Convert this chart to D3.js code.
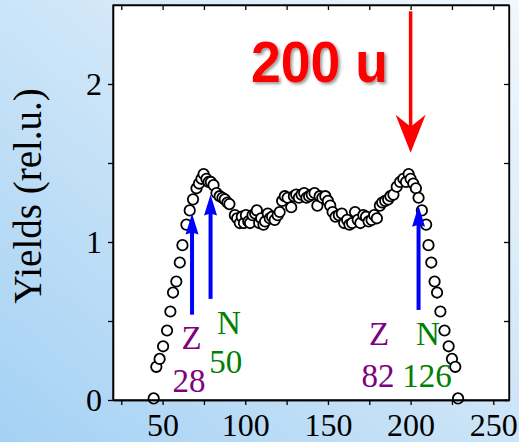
<!DOCTYPE html>
<html>
<head>
<meta charset="utf-8">
<script src="https://cdn.jsdelivr.net/npm/d3@7"></script>
<style>
    html, body { margin: 0; padding: 0; }
    svg { display: block; }
</style>
</head>
<body>
<svg id="chart"></svg>
<script>
window.Vis = window.Vis || {};

// mass number (u) and relative yield
const massNumbers = [44.6, 46.2, 48.2, 50.3, 52.7, 54.7, 56.3, 58.3, 60.4, 62.0, 64.4, 66.4, 68.4, 70.5, 72.0, 73.5, 74.8, 76.5, 77.8, 79.2,
    80.8, 82.6, 84.5, 86.2, 87.6, 89.2, 90.4, 93.7, 95.1, 96.7, 97.9, 99.2, 100.4, 101.8, 102.9, 104.4, 106.0, 107.0, 108.4, 109.6,
    111.0, 112.0, 113.6, 114.8, 116.2, 117.8, 119.6, 120.8, 122.3, 123.9, 125.6, 127.8, 129.4, 130.8, 132.4, 134.0, 135.6, 137.0, 138.6, 140.2,
    141.9, 143.6, 145.0, 146.6, 148.4, 150.0, 151.4, 152.8, 154.6, 156.6, 158.4, 159.8, 161.6, 163.0, 164.6, 166.4, 168.0, 169.6, 171.4, 173.0,
    174.6, 176.4, 178.0, 179.6, 181.4, 182.8, 184.6, 186.4, 187.8, 189.6, 191.6, 193.6, 195.6, 197.2, 198.8, 200.0, 201.6, 203.2, 204.8, 206.8,
    209.4, 210.8, 212.5, 214.5, 216.0, 218.0, 220.5, 223.0, 225.0, 227.0, 228.7];
const yields = [0.01, 0.21, 0.26, 0.34, 0.44, 0.56, 0.68, 0.75, 0.87, 0.98, 1.11, 1.20, 1.27, 1.34, 1.37, 1.40, 1.43, 1.40, 1.38, 1.38,
    1.36, 1.31, 1.29, 1.28, 1.27, 1.25, 1.24, 1.17, 1.15, 1.12, 1.16, 1.12, 1.17, 1.13, 1.12, 1.17, 1.18, 1.20, 1.12, 1.15,
    1.11, 1.13, 1.18, 1.15, 1.16, 1.14, 1.17, 1.19, 1.26, 1.29, 1.28, 1.22, 1.29, 1.30, 1.28, 1.30, 1.31, 1.28, 1.29, 1.30,
    1.31, 1.23, 1.29, 1.28, 1.29, 1.26, 1.23, 1.19, 1.16, 1.17, 1.18, 1.12, 1.14, 1.11, 1.12, 1.19, 1.14, 1.12, 1.17, 1.16,
    1.13, 1.14, 1.17, 1.15, 1.23, 1.25, 1.26, 1.27, 1.29, 1.30, 1.35, 1.38, 1.40, 1.38, 1.43, 1.40, 1.37, 1.34, 1.28, 1.20,
    1.11, 0.98, 0.87, 0.75, 0.68, 0.56, 0.44, 0.34, 0.26, 0.21, 0.01];

const xTickValues = [50, 100, 150, 200, 250];
const xMinorValues = [25, 75, 125, 175, 225];
const yTickValues = [0, 1, 2];
const yMinorValues = [0.5, 1.5];

// magic-number arrows: mass, start yield, tip yield
const arrowMass = [67.8, 79.0, 204.8];
const arrowFrom = [0.54, 0.64, 0.57];
const arrowTo = [1.18, 1.30, 1.23];

// magic-number labels
const labelText = ['Z', '28', 'N', '50', 'Z', '82', 'N', '126'];
const labelMass = [67.6, 66.0, 90.1, 88.2, 181.0, 180.2, 210.5, 209.9];
const labelYield = [0.32, 0.05, 0.42, 0.17, 0.35, 0.085, 0.35, 0.085];
const labelKind = ['Z', 'Z', 'N', 'N', 'Z', 'Z', 'N', 'N'];

const headline = '200 u';
const headlineMass = 200;
const headlineFrom = 2.46;
const headlineTo = 1.565;

Vis.init = function() {
    Vis.width = 519;
    Vis.height = 442;
    Vis.margin = {l: 113, r: 10, t: 5, b: 42};

    Vis.setup.initGraph();
    Vis.setup.initScales();
    Vis.draw.points();
    Vis.draw.arrows();
    Vis.draw.labels();
    Vis.draw.axes();
    Vis.draw.headline();
};

Vis.setup = {
    initGraph: function() {
        Vis.svg = d3.select('#chart')
                    .attr('width', Vis.width)
                    .attr('height', Vis.height);

        let defs = Vis.svg.append('defs');

        let grad = defs.append('linearGradient')
                        .attr('id', 'bg')
                        .attr('x1', '0').attr('y1', '1')
                        .attr('x2', '1').attr('y2', '0');
        grad.append('stop').attr('offset', '0').attr('stop-color', '#a4d1f4');
        grad.append('stop').attr('offset', '0.55').attr('stop-color', '#cfe6f8');
        grad.append('stop').attr('offset', '1').attr('stop-color', '#f2f8fd');

        defs.append('filter')
                .attr('id', 'shadow')
                .attr('x', '-10%').attr('y', '-20%')
                .attr('width', '130%').attr('height', '150%')
            .append('feDropShadow')
                .attr('dx', 2).attr('dy', 2)
                .attr('stdDeviation', 1.5)
                .attr('flood-color', '#555')
                .attr('flood-opacity', 0.6);

        Vis.svg.append('rect')
                .attr('width', Vis.width)
                .attr('height', Vis.height)
                .attr('fill', 'url(#bg)');

        Vis.svg.append('rect')
                .attr('x', Vis.margin.l)
                .attr('y', Vis.margin.t)
                .attr('width', Vis.width - Vis.margin.l - Vis.margin.r)
                .attr('height', Vis.height - Vis.margin.t - Vis.margin.b)
                .attr('fill', 'white');
    },

    initScales: function() {
        Vis.x = d3.scaleLinear()
                    .domain([20, 259.5])
                    .range([Vis.margin.l, Vis.width - Vis.margin.r]);
        Vis.y = d3.scaleLinear()
                    .domain([0, 2.5])
                    .range([Vis.height - Vis.margin.b, Vis.margin.t]);
    }
};

Vis.draw = {
    points: function() {
        Vis.svg.append('g')
            .selectAll('circle')
            .data(d3.zip(massNumbers, yields))
            .enter()
                .append('circle')
                    .attr('cx', function(d) { return Vis.x(d[0]); })
                    .attr('cy', function(d) { return Vis.y(d[1]); })
                    .attr('r', 5.2)
                    .attr('fill', 'white')
                    .attr('stroke', 'black')
                    .attr('stroke-width', 1.8);
    },

    arrows: function() {
        let g = Vis.svg.append('g').attr('fill', '#0000ff').attr('stroke', '#0000ff');
        let data = d3.zip(arrowMass, arrowFrom, arrowTo);

        g.selectAll('line')
            .data(data)
            .enter()
                .append('line')
                    .attr('x1', function(d) { return Vis.x(d[0]); })
                    .attr('x2', function(d) { return Vis.x(d[0]); })
                    .attr('y1', function(d) { return Vis.y(d[1]); })
                    .attr('y2', function(d) { return Vis.y(d[2]) + 12; })
                    .attr('stroke-width', 4);

        g.selectAll('path')
            .data(data)
            .enter()
                .append('path')
                    .attr('stroke', 'none')
                    .attr('d', function(d) {
                        let cx = Vis.x(d[0]), ty = Vis.y(d[2]);
                        return 'M' + cx + ',' + ty + 'L' + (cx + 6.5) + ',' + (ty + 21) +
                               'L' + cx + ',' + (ty + 19) + 'L' + (cx - 6.5) + ',' + (ty + 21) + 'Z';
                    });
    },

    labels: function() {
        Vis.svg.append('g')
            .selectAll('text')
            .data(d3.zip(labelText, labelMass, labelYield, labelKind))
            .enter()
                .append('text')
                    .attr('x', function(d) { return Vis.x(d[1]); })
                    .attr('y', function(d) { return Vis.y(d[2]); })
                    .attr('text-anchor', 'middle')
                    .attr('font-family', '"Liberation Serif", "Times New Roman", serif')
                    .attr('font-size', 33)
                    .attr('fill', function(d) { return d[3] === 'Z' ? '#800080' : '#008000'; })
                    .text(function(d) { return d[0]; });
    },

    axes: function() {
        let font = '"Liberation Serif", "Times New Roman", serif';
        let bottom = Vis.height - Vis.margin.b;
        let right = Vis.width - Vis.margin.r;

        // labelled axes, ticks outward
        let gx = Vis.svg.append('g')
            .attr('transform', 'translate(0,' + bottom + ')')
            .call(d3.axisBottom(Vis.x).tickValues(xTickValues).tickSize(5).tickSizeOuter(0).tickPadding(8));
        let gy = Vis.svg.append('g')
            .attr('transform', 'translate(' + Vis.margin.l + ',0)')
            .call(d3.axisLeft(Vis.y).tickValues(yTickValues).tickFormat(d3.format('d')).tickSize(5).tickSizeOuter(0).tickPadding(6));

        Vis.svg.append('g')
            .attr('transform', 'translate(0,' + bottom + ')')
            .call(d3.axisBottom(Vis.x).tickValues(xMinorValues).tickSize(5).tickSizeOuter(0).tickFormat(''));
        Vis.svg.append('g')
            .attr('transform', 'translate(' + Vis.margin.l + ',0)')
            .call(d3.axisLeft(Vis.y).tickValues(yMinorValues).tickSize(5).tickSizeOuter(0).tickFormat(''));

        // mirror axes, ticks inward
        Vis.svg.append('g')
            .attr('transform', 'translate(0,' + Vis.margin.t + ')')
            .call(d3.axisBottom(Vis.x).tickValues(xMinorValues.concat(xTickValues)).tickSize(5).tickSizeOuter(0).tickFormat(''));
        Vis.svg.append('g')
            .attr('transform', 'translate(' + right + ',0)')
            .call(d3.axisLeft(Vis.y).tickValues(yMinorValues.concat(yTickValues)).tickSize(5).tickSizeOuter(0).tickFormat(''));

        Vis.svg.selectAll('.domain, .tick line')
            .attr('stroke', 'black')
            .attr('stroke-width', 1.3);

        Vis.svg.append('rect')
            .attr('x', Vis.margin.l)
            .attr('y', Vis.margin.t)
            .attr('width', right - Vis.margin.l)
            .attr('height', bottom - Vis.margin.t)
            .attr('fill', 'none')
            .attr('stroke', 'black')
            .attr('stroke-width', 1.3);

        gx.selectAll('text').attr('font-family', font).attr('font-size', 32).attr('fill', 'black');
        gy.selectAll('text').attr('font-family', font).attr('font-size', 32).attr('fill', 'black');

        Vis.svg.append('text')
            .attr('transform', 'translate(41,' + 196 + ') rotate(-90)')
            .attr('text-anchor', 'middle')
            .attr('font-family', font)
            .attr('font-size', 39)
            .attr('fill', 'black')
            .text('Yields (rel.u.)');
    },

    headline: function() {
        let cx = Vis.x(headlineMass);
        let top = Vis.y(headlineFrom);
        let tip = Vis.y(headlineTo);

        let g = Vis.svg.append('g').attr('fill', '#ff0000');

        g.append('line')
            .attr('x1', cx).attr('x2', cx)
            .attr('y1', top).attr('y2', tip - 25)
            .attr('stroke', '#ff0000')
            .attr('stroke-width', 3.5);

        g.append('path')
            .attr('d', 'M' + cx + ',' + tip + 'L' + (cx + 15) + ',' + (tip - 38) +
                       'L' + cx + ',' + (tip - 26) + 'L' + (cx - 15) + ',' + (tip - 38) + 'Z');

        g.append('text')
            .attr('x', 251)
            .attr('y', 82)
            .attr('font-family', '"Liberation Sans", Arial, sans-serif')
            .attr('font-weight', 'bold')
            .attr('font-size', 58)
            .attr('textLength', 137)
            .attr('lengthAdjust', 'spacingAndGlyphs')
            .attr('filter', 'url(#shadow)')
            .text(headline);
    }
};

document.addEventListener('DOMContentLoaded', Vis.init);
</script>
</body>
</html>
